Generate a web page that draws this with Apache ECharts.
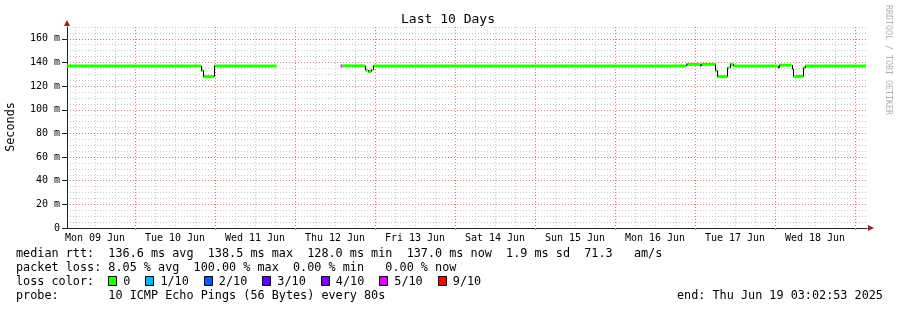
<!DOCTYPE html>
<html>
<head>
<meta charset="utf-8">
<title>Last 10 Days</title>
<script src="https://cdn.jsdelivr.net/npm/echarts@6/dist/echarts.min.js"></script>
<style>
    html, body { margin: 0; padding: 0; background: #fff; }
    #chart { width: 897px; height: 310px; }
</style>
</head>
<body>
<div id="chart"></div>
<script>
/**
 * smokeping "Last 10 Days" graph
 * x values are hours since Mon 09 Jun 00:00
 */
var plotStartHour = 3.6;
var plotEndHour = 243.6;

/**
 * median rtt as steps: value i holds from changeHours[i] to changeHours[i+1]
 * null = no answer (100 % loss)
 */
var changeHours = [3.6, 43.8, 44.5, 47.7, 66.5, 85.7, 86.2, 93.1, 93.8, 94.9, 95.3,
    189.3, 189.6, 193.5, 193.8, 198.0, 198.7, 201.7, 202.4, 203.5,
    216.8, 217.2, 221.0, 221.5, 224.5, 225.0, 243.3];
var medianRtt = [137.1, 133.3, 128.0, 137.1, null, 137.1, 137.1, 133.5, 132.3, 133.8, 137.1,
    138.0, 138.4, 137.1, 138.4, 133.2, 128.0, 135.5, 138.5, 137.1,
    135.5, 137.7, 134.5, 128.2, 135.5, 137.1];
var lossTenths = [0, 0, 0, 0, null, 5, 0, 0, 0, 0, 0,
    1, 0, 0, 0, 0, 0, 0, 0, 0,
    0, 0, 0, 0, 0, 0];

var dayLabels = ['Mon 09 Jun', 'Tue 10 Jun', 'Wed 11 Jun', 'Thu 12 Jun', 'Fri 13 Jun',
    'Sat 14 Jun', 'Sun 15 Jun', 'Mon 16 Jun', 'Tue 17 Jun', 'Wed 18 Jun'];
var yTickValues = [0, 20, 40, 60, 80, 100, 120, 140, 160];

var lossColors = {0: '#26ff00', 1: '#00b8ff', 2: '#0059ff', 3: '#5e00ff', 4: '#7e00ff', 5: '#dd00ff', 9: '#ff0000'};
var lossLegend = ['0', '1/10', '2/10', '3/10', '4/10', '5/10', '9/10'];
var lossLegendKeys = [0, 1, 2, 3, 4, 5, 9];

var statLines = [
    'median rtt:  136.6 ms avg  138.5 ms max  128.0 ms min  137.0 ms now  1.9 ms sd  71.3   am/s',
    'packet loss: 8.05 % avg  100.00 % max  0.00 % min   0.00 % now',
    'loss color:',
    'probe:       10 ICMP Echo Pings (56 Bytes) every 80s'
];
var endText = 'end: Thu Jun 19 03:02:53 2025';

var mono = 'DejaVu Sans Mono';
var charW = 7.12;

/**
 * grid positions
 */
var dayLines = [], sixHourLines = [], dayCenters = [];
for (let h = 6; h < plotEndHour; h += 6) {
    if (h % 24 == 0) dayLines.push(h); else sixHourLines.push(h);
}
dayLabels.forEach((d, i) => dayCenters.push(12 + 24 * i));
var minorY = [];
for (let v = 5; v <= 170; v += 5) {
    if (v % 20 != 0) minorY.push(v);
}

/**
 * segments for the custom series: [start, end, value, loss, previous value]
 */
var segments = [];
for (let i = 0; i < medianRtt.length; i++) {
    if (medianRtt[i] == null) continue;
    let prev = (i > 0 && medianRtt[i - 1] != null) ? medianRtt[i - 1] : medianRtt[i];
    segments.push([changeHours[i], changeHours[i + 1], medianRtt[i], lossTenths[i], prev]);
}

var renderStep = (params, api) => {
    let v = api.value(2), prev = api.value(4);
    let a = api.coord([api.value(0), v]), b = api.coord([api.value(1), v]);
    let children = [{
        type: 'rect',
        shape: {x: a[0], y: a[1] - 1.5, width: b[0] - a[0], height: 3},
        style: {fill: lossColors[api.value(3)]}
    }];
    if (prev !== v) {
        let p = api.coord([api.value(0), prev]);
        let x = Math.round(a[0]) + 0.5;
        children.push({
            type: 'line',
            shape: {x1: x, y1: p[1], x2: x, y2: a[1]},
            style: {stroke: '#000', lineWidth: 1}
        });
    }
    return {type: 'group', children: children};
};

/**
 * legend texts under the plot
 */
var graphics = [];
statLines.forEach((t, i) => {
    graphics.push({
        type: 'text', x: 16, y: 254.3 + 14 * i,
        style: {text: t, font: '11.8px "' + mono + '"', fill: '#000', textVerticalAlign: 'middle'}
    });
});
var bx = 16 + 13 * charW - 0.3;
lossLegend.forEach((lab, i) => {
    graphics.push({
        type: 'rect', shape: {x: Math.round(bx) + 0.5, y: 276.5, width: 8, height: 9},
        style: {fill: lossColors[lossLegendKeys[i]], stroke: '#000', lineWidth: 1}
    });
    graphics.push({
        type: 'text', x: bx + 15, y: 282.3,
        style: {text: lab, font: '11.8px "' + mono + '"', fill: '#000', textVerticalAlign: 'middle'}
    });
    bx = bx + 15 + lab.length * charW + 15;
});
graphics.push({
    type: 'text', x: 677, y: 296.3,
    style: {text: endText, font: '11.8px "' + mono + '"', fill: '#000', textVerticalAlign: 'middle'}
});
graphics.push({
    type: 'text', x: 448, y: 19.5,
    style: {text: 'Last 10 Days', font: '13px "' + mono + '"', fill: '#000', textAlign: 'center', textVerticalAlign: 'middle'}
});
graphics.push({
    type: 'text', x: 11, y: 127, rotation: Math.PI / 2,
    style: {text: 'Seconds', font: '11.8px "' + mono + '"', fill: '#000', textAlign: 'center', textVerticalAlign: 'middle'}
});
graphics.push({
    type: 'text', x: 888, y: 60, rotation: -Math.PI / 2,
    style: {text: 'RRDTOOL / TOBI OETIKER', font: '8.3px "' + mono + '"', fill: '#b0b0b0', textAlign: 'center', textVerticalAlign: 'middle'}
});
/**
 * axis arrows
 */
graphics.push({type: 'polygon', shape: {points: [[64, 26], [70, 26], [67, 20]]}, style: {fill: '#9b1c1c'}});
graphics.push({type: 'polygon', shape: {points: [[868, 225], [868, 231], [874, 228]]}, style: {fill: '#9b1c1c'}});

var hidden = {show: false};
var minorGrid = {show: true, lineStyle: {color: '#c8c8c8', type: [1, 2], width: 1}};
var majorGrid = {show: true, lineStyle: {color: '#f07070', type: [1, 2], width: 1}};
var option = {
    animation: false,
    backgroundColor: '#fff',
    grid: {left: 67, right: 30, top: 27, bottom: 82},
    xAxis: [{
        type: 'value', min: plotStartHour, max: plotEndHour, position: 'bottom',
        axisLine: hidden, axisLabel: hidden,
        axisTick: {show: false, customValues: sixHourLines},
        splitLine: minorGrid
    }, {
        type: 'value', min: plotStartHour, max: plotEndHour, position: 'bottom',
        axisLine: {show: true, lineStyle: {color: '#222', width: 1}},
        axisTick: {show: true, customValues: dayLines, length: 2, lineStyle: {color: '#e07070'}},
        axisLabel: {
            customValues: dayCenters, margin: 5,
            fontFamily: mono, fontSize: 10, color: '#000',
            formatter: v => dayLabels[Math.round((v - 12) / 24)]
        },
        splitLine: majorGrid
    }],
    yAxis: [{
        type: 'value', min: 0, max: 170, position: 'left',
        axisLine: hidden, axisLabel: hidden,
        axisTick: {show: false, customValues: minorY},
        splitLine: minorGrid
    }, {
        type: 'value', min: 0, max: 170, position: 'left',
        axisLine: {show: true, lineStyle: {color: '#222', width: 1}},
        axisTick: {show: true, customValues: yTickValues, length: 5, lineStyle: {color: '#222'}},
        axisLabel: {
            customValues: yTickValues, margin: 7,
            fontFamily: mono, fontSize: 10, color: '#000',
            formatter: v => v == 0 ? '0' : v + ' m'
        },
        splitLine: majorGrid
    }],
    series: [{
        type: 'custom',
        xAxisIndex: 1, yAxisIndex: 1,
        renderItem: renderStep,
        encode: {x: [0, 1], y: 2},
        data: segments,
        z: 5
    }],
    graphic: graphics
};

var chart = echarts.init(document.getElementById('chart'));
chart.setOption(option);
</script>
</body>
</html>
